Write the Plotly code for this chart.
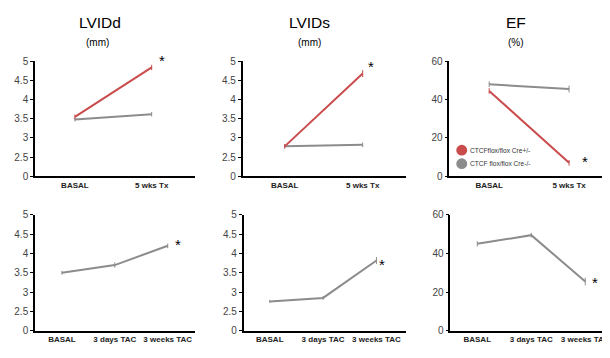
import plotly.graph_objects as go

# page body has an 8px margin; the figure is laid out in reference pixels and shifted
OFF = 8
W, H = 610 - OFF, 358 - OFF

# ---- data ----
tx_cats = ["BASAL", "5 wks Tx"]
tac_cats = ["BASAL", "3 days TAC", "3 weeks TAC"]

lvidd_ko = [3.55, 4.84]
lvidd_ctrl = [3.48, 3.62]
lvidd_ko_err = [0.06, 0.07]
lvidd_ctrl_err = [0.05, 0.06]

lvids_ko = [2.78, 4.68]
lvids_ctrl = [2.78, 2.82]
lvids_ko_err = [0.06, 0.09]
lvids_ctrl_err = [0.05, 0.06]

ef_ko = [44.5, 7.0]
ef_ctrl = [48.0, 45.5]
ef_ko_err = [1.5, 1.5]
ef_ctrl_err = [1.5, 1.8]

tac_lvidd = [3.50, 3.70, 4.20]
tac_lvids = [2.76, 2.85, 3.82]
tac_ef = [45.0, 49.5, 25.5]
tac_lvidd_err = [0.05, 0.07, 0.06]
tac_lvids_err = [0.04, 0.05, 0.09]
tac_ef_err = [1.4, 1.2, 2.0]

broken_ticks = [2, 2.5, 3, 3.5, 4, 4.5, 5]
broken_labels = ["0", "2.5", "3", "3.5", "4", "4.5", "5"]
ef_ticks = [0, 20, 40, 60]

RED = "#c94b4b"
GRAY = "#8c8c8c"
FONT = "Liberation Sans, Arial, sans-serif"

fig = go.Figure()

def px(x):
    return (x - OFF) / W

def py(y):
    return 1 - (y - OFF) / H

# panel layout in reference pixels
panels = [
    (35, 195, 57, 176, [-0.52, 1.56], [2, 5], tx_cats, broken_ticks, broken_labels),
    (243, 407, 57, 176, [-0.54, 1.56], [2, 5], tx_cats, broken_ticks, broken_labels),
    (450, 610, 57, 176, [-0.5, 1.5], [0, 60], tx_cats, ef_ticks, [str(t) for t in ef_ticks]),
    (35, 195, 216, 336, [-0.51, 2.51], [2, 5], tac_cats, broken_ticks, broken_labels),
    (244, 407, 216, 336, [-0.49, 2.56], [2, 5], tac_cats, broken_ticks, broken_labels),
    (451, 610, 216, 336, [-0.5, 2.44], [0, 60], tac_cats, ef_ticks, [str(t) for t in ef_ticks]),
]

series = [
    [(lvidd_ctrl, lvidd_ctrl_err, GRAY), (lvidd_ko, lvidd_ko_err, RED)],
    [(lvids_ctrl, lvids_ctrl_err, GRAY), (lvids_ko, lvids_ko_err, RED)],
    [(ef_ctrl, ef_ctrl_err, GRAY), (ef_ko, ef_ko_err, RED)],
    [(tac_lvidd, tac_lvidd_err, GRAY)],
    [(tac_lvids, tac_lvids_err, GRAY)],
    [(tac_ef, tac_ef_err, GRAY)],
]

layout = {}
for i, (xl, xr, yt, yb, xrng, yrng, cats, tv, tt) in enumerate(panels):
    n = i + 1
    sfx = "" if n == 1 else str(n)
    layout["xaxis" + sfx] = dict(
        domain=[px(xl), min(1, px(xr))], range=xrng, anchor="y" + sfx,
        tickvals=list(range(len(cats))), ticktext=cats, showline=True,
        linecolor="black", linewidth=1.5, ticks="", showgrid=False, zeroline=False,
        tickfont=dict(family=FONT, size=8, color="#222", weight="bold"),
        ticklabeloverflow="allow",
        fixedrange=True,
    )
    layout["yaxis" + sfx] = dict(
        domain=[py(yb), py(yt)], range=yrng, anchor="x" + sfx,
        tickvals=tv, ticktext=tt, showline=True, linecolor="black", linewidth=1.5,
        ticks="outside", ticklen=3, tickwidth=1, tickcolor="black",
        showgrid=False, zeroline=False,
        tickfont=dict(family=FONT, size=10, color="#444"), fixedrange=True,
    )
    for vals, errs, col in series[i]:
        fig.add_trace(go.Scatter(
            x=list(range(len(vals))), y=vals, mode="lines",
            line=dict(color=col, width=2),
            error_y=dict(type="data", array=errs, color=col, thickness=1, width=0),
            xaxis="x" + sfx, yaxis="y" + sfx,
            showlegend=False, hoverinfo="skip",
        ))

annotations = []
def txt(x, y, s, size, color="black", xanchor="center", weight="normal"):
    annotations.append(dict(
        x=px(x), y=py(y), xref="paper", yref="paper", text=s, showarrow=False,
        xanchor=xanchor, yanchor="middle",
        font=dict(family=FONT, size=size, color=color, weight=weight),
    ))

# titles
txt(100, 17, "LVIDd", 15.5)
txt(98, 37, "(mm)", 10)
txt(310, 17, "LVIDs", 15.5)
txt(310, 37, "(mm)", 10)
txt(517, 17, "EF", 15.5)
txt(517, 37, "(%)", 10)

# significance stars
for x, y in [(162, 56), (372, 62), (586, 161), (178, 247), (383, 267), (596, 286)]:
    txt(x, y, "*", 15)

# legend
shapes = []
for y, col, label in [(149, RED, "CTCFflox/flox Cre+/-"), (163, GRAY, "CTCF flox/flox Cre-/-")]:
    shapes.append(dict(type="circle", xref="paper", yref="paper",
                       x0=px(457), x1=px(468), y0=py(y + 5.5), y1=py(y - 5.5),
                       fillcolor=col, line=dict(width=0)))
    txt(469, y, label, 6.6, color="#333", xanchor="left")

fig.update_layout(
    width=W, height=H, margin=dict(l=0, r=0, t=0, b=0),
    paper_bgcolor="white", plot_bgcolor="white",
    annotations=annotations, shapes=shapes, showlegend=False,
    **layout,
)

fig.write_html("out.html")
